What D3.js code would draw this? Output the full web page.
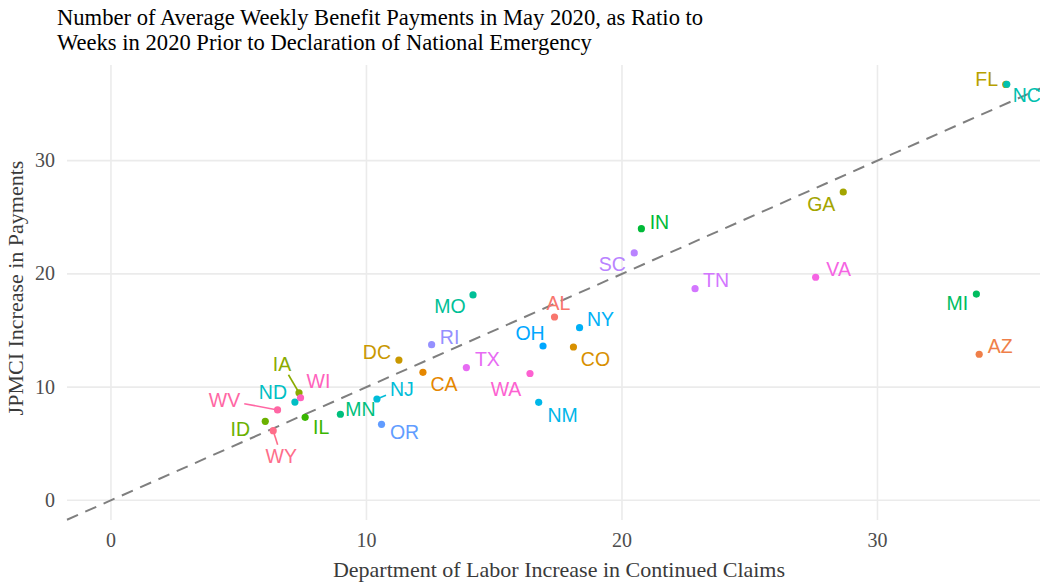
<!DOCTYPE html>
<html>
<head>
<meta charset="utf-8">
<script src="https://cdn.jsdelivr.net/npm/d3@7"></script>
<style>
  body { margin: 0; background: #fff; }
  svg { display: block; }
</style>
</head>
<body>
<svg id="chart" width="1040" height="584"></svg>
<script>
// data
const states = ["AL","AZ","CA","CO","DC","FL","GA","IA","ID","IL","IN","MI","MN","MO","NC",
                "ND","NJ","NM","NY","OH","OR","RI","SC","TN","TX","VA","WA","WI","WV","WY"];
const dolIncrease = [17.36,33.98,12.21,18.10,11.27,35.02,28.66,7.36,6.04,7.60,20.76,33.87,8.98,14.17,35.06,
                     7.20,10.41,16.74,18.34,16.91,10.59,12.55,20.48,22.86,13.91,27.58,16.40,7.42,6.52,6.35];
const jpmciIncrease = [16.19,12.90,11.30,13.54,12.39,36.73,27.23,9.50,6.98,7.33,23.99,18.22,7.60,18.14,36.75,
                       8.68,8.95,8.65,15.25,13.63,6.71,13.75,21.85,18.69,11.72,19.70,11.20,9.06,7.98,6.15];
const xTicks = [0, 10, 20, 30];
const yTicks = [0, 10, 20, 30];

// where the repelled labels ended up (pixel offsets from the point)
const labelOffset = {
  AL:[4,-14], AZ:[21,-8], CA:[21,12], CO:[22,12], DC:[-22,-8], FL:[-19,-5], GA:[-22,12],
  IA:[-17,-29], ID:[-25,8], IL:[16,10], IN:[18,-7], MI:[-19,9], MN:[20,-5], MO:[-23,11],
  NC:[20,11], ND:[-22,-10], NJ:[25,-10], NM:[24,13], NY:[21,-9], OH:[-13,-13], OR:[23,8],
  RI:[18,-8], SC:[-22,11], TN:[21,-9], TX:[21,-9], VA:[23,-8], WA:[-24,15], WI:[18,-17],
  WV:[-53,-10], WY:[8,25]
};
const withSegment = ["IA","WV","WY","NJ"];

const svg = d3.select("#chart");
const panel = {left: 67, right: 1052, top: 65, bottom: 520};

const x = d3.scaleLinear().domain([-1.72, 36.83]).range([panel.left, panel.right]);
const y = d3.scaleLinear().domain([-1.74, 38.45]).range([panel.bottom, panel.top]);

// ggplot-like hue palette (polar Luv, l=65, c=100)
function hclLuv(h, c, l) {
  const hr = h * Math.PI / 180;
  const u = c * Math.cos(hr), v = c * Math.sin(hr);
  const Xn = 95.047, Yn = 100, Zn = 108.883;
  const den = Xn + 15 * Yn + 3 * Zn;
  const un = 4 * Xn / den, vn = 9 * Yn / den;
  const Y = l > 8 ? Yn * Math.pow((l + 16) / 116, 3) : Yn * l / 903.3;
  const up = u / (13 * l) + un, vp = v / (13 * l) + vn;
  const X = Y * 9 * up / (4 * vp);
  const Z = Y * (12 - 3 * up - 20 * vp) / (4 * vp);
  const xx = X / 100, yy = Y / 100, zz = Z / 100;
  let r = 3.2404542 * xx - 1.5371385 * yy - 0.4985314 * zz;
  let g = -0.9692660 * xx + 1.8760108 * yy + 0.0415560 * zz;
  let b = 0.0556434 * xx - 0.2040259 * yy + 1.0572252 * zz;
  const gam = t => {
    t = t <= 0.0031308 ? 12.92 * t : 1.055 * Math.pow(t, 1 / 2.4) - 0.055;
    return Math.round(Math.max(0, Math.min(1, t)) * 255);
  };
  return d3.rgb(gam(r), gam(g), gam(b)).formatHex();
}
const n = states.length;
const color = d3.scaleOrdinal()
  .domain(states)
  .range(states.map((s, i) => hclLuv(15 + 360 * i / n, 100, 65)));

// gridlines
const grid = svg.append("g");
grid.selectAll(".gx").data(xTicks).enter().append("line")
  .attr("x1", d => x(d)).attr("x2", d => x(d))
  .attr("y1", panel.top).attr("y2", panel.bottom)
  .attr("stroke", "#ebebeb").attr("stroke-width", 1.6);
grid.selectAll(".gy").data(yTicks).enter().append("line")
  .attr("x1", panel.left).attr("x2", panel.right)
  .attr("y1", d => y(d)).attr("y2", d => y(d))
  .attr("stroke", "#ebebeb").attr("stroke-width", 1.6);

// tick labels
svg.selectAll(".tx").data(xTicks).enter().append("text")
  .attr("x", d => x(d)).attr("y", 547)
  .attr("text-anchor", "middle")
  .attr("font-family", "Liberation Serif, serif").attr("font-size", 20)
  .attr("fill", "#4d4d4d").text(d => d);
svg.selectAll(".ty").data(yTicks).enter().append("text")
  .attr("x", 55).attr("y", d => y(d)).attr("dy", "0.33em")
  .attr("text-anchor", "end")
  .attr("font-family", "Liberation Serif, serif").attr("font-size", 20)
  .attr("fill", "#4d4d4d").text(d => d);

// 45 degree reference line
const lo = Math.max(x.domain()[0], y.domain()[0]);
const hi = Math.min(x.domain()[1], y.domain()[1]);
svg.append("line")
  .attr("x1", x(lo)).attr("y1", y(lo))
  .attr("x2", x(hi)).attr("y2", y(hi))
  .attr("stroke", "#7f7f7f").attr("stroke-width", 2)
  .attr("stroke-dasharray", "12,8");

const rows = states.map((s, i) => ({state: s, dx: dolIncrease[i], jp: jpmciIncrease[i]}));

// points
svg.selectAll(".pt").data(rows).enter().append("circle")
  .attr("cx", d => x(d.dx)).attr("cy", d => y(d.jp)).attr("r", 3.6)
  .attr("fill", d => color(d.state));

// labels + segments
const labels = svg.append("g");
rows.forEach(d => {
  const px = x(d.dx), py = y(d.jp);
  const off = labelOffset[d.state];
  const lx = px + off[0], ly = py + off[1];
  const t = labels.append("text")
    .attr("x", lx).attr("y", ly).attr("dy", "0.36em")
    .attr("text-anchor", "middle")
    .attr("font-family", "Liberation Sans, Arial, sans-serif").attr("font-size", 19.5)
    .attr("fill", color(d.state)).text(d.state);
  if (withSegment.includes(d.state)) {
    const w = t.node().getComputedTextLength() / 2 + 4;
    const h = 7 + 4;
    const vx = px - lx, vy = py - ly;
    const s = Math.min(Math.abs(w / vx || Infinity), Math.abs(h / vy || Infinity));
    labels.insert("line", "text")
      .attr("x1", lx + vx * s).attr("y1", ly + vy * s)
      .attr("x2", px).attr("y2", py)
      .attr("stroke", color(d.state)).attr("stroke-width", 1.6);
  }
});

// titles
const title = svg.append("text")
  .attr("font-family", "Liberation Serif, serif").attr("font-size", 22.6).attr("fill", "#000");
title.append("tspan").attr("x", 57).attr("y", 25)
  .text("Number of Average Weekly Benefit Payments in May 2020, as Ratio to");
title.append("tspan").attr("x", 57).attr("y", 50)
  .text("Weeks in 2020 Prior to Declaration of National Emergency");

svg.append("text")
  .attr("x", 559).attr("y", 577).attr("text-anchor", "middle")
  .attr("font-family", "Liberation Serif, serif").attr("font-size", 22)
  .attr("fill", "#3a3a3a")
  .text("Department of Labor Increase in Continued Claims");

svg.append("text")
  .attr("transform", `translate(23,288) rotate(-90)`)
  .attr("text-anchor", "middle")
  .attr("font-family", "Liberation Serif, serif").attr("font-size", 22)
  .attr("fill", "#3a3a3a")
  .text("JPMCI Increase in Payments");
</script>
</body>
</html>
